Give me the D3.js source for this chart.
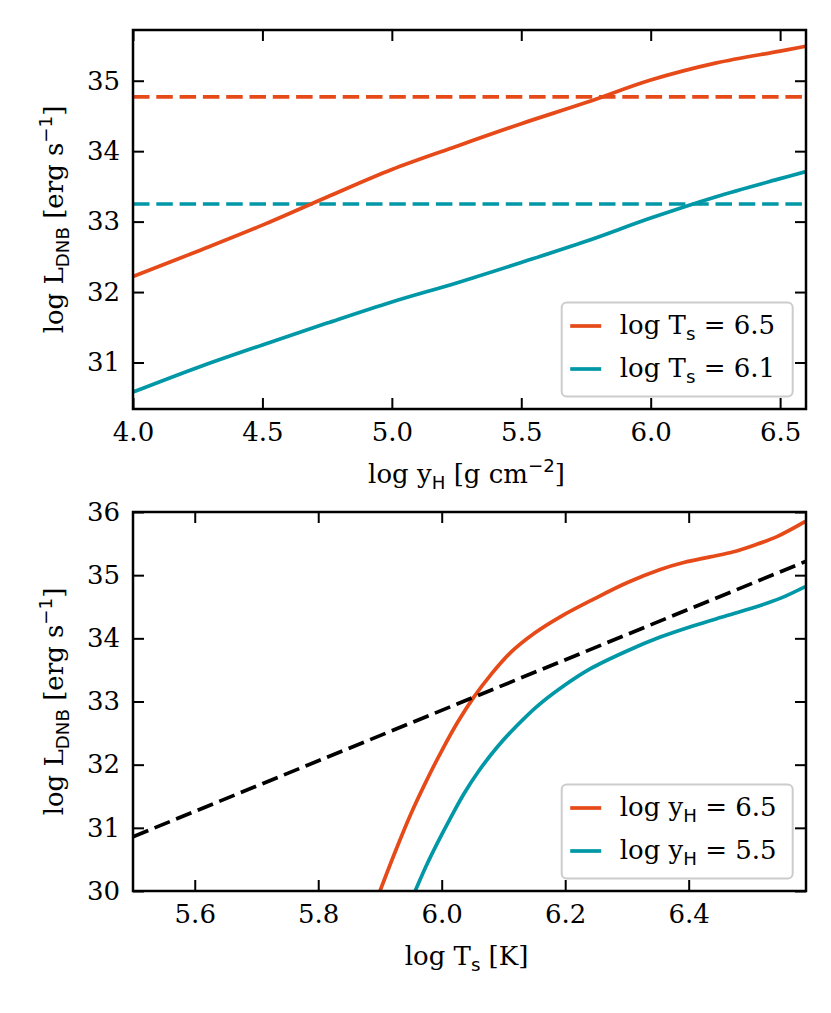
<!DOCTYPE html>
<html>
<head>
<meta charset="utf-8">
<script src="https://cdn.jsdelivr.net/npm/d3@7"></script>
<style>
  html, body { margin: 0; padding: 0; background: #fff; }
  svg { display: block; }
</style>
</head>
<body>
<svg id="chart" width="831" height="1013"></svg>
<script>
// ---------- DATA ----------
// Top panel: log L_DNB vs log y_H
const topX = [4.0, 4.25, 4.5, 4.75, 5.0, 5.25, 5.5, 5.75, 6.0, 6.25, 6.5, 6.6];
const topTs65 = [32.22, 32.58, 32.95, 33.35, 33.74, 34.07, 34.39, 34.69, 35.01, 35.25, 35.42, 35.49];
const topTs61 = [30.58, 30.93, 31.25, 31.56, 31.86, 32.13, 32.42, 32.72, 33.05, 33.35, 33.61, 33.71];
const topDashed = [34.77, 33.25];          // horizontal reference levels (Ts=6.5, Ts=6.1)
const topXTicks = [4.0, 4.5, 5.0, 5.5, 6.0, 6.5];
const topYTicks = [31, 32, 33, 34, 35];
const topXDomain = [4.0, 6.6];
const topYDomain = [30.34, 35.72];
const topLegend = ["6.5", "6.1"];

// Bottom panel: log L_DNB vs log T_s
const botYH65T = [5.900, 5.925, 5.950, 5.975, 6.000, 6.025, 6.052, 6.080, 6.111, 6.150, 6.192, 6.246, 6.300, 6.354, 6.392, 6.435, 6.473, 6.505, 6.543, 6.589];
const botYH65L = [30.00, 30.63, 31.22, 31.74, 32.22, 32.66, 33.07, 33.43, 33.77, 34.08, 34.34, 34.62, 34.88, 35.09, 35.20, 35.29, 35.37, 35.47, 35.61, 35.85];
const botYH55T = [5.957, 5.975, 5.9925, 6.015, 6.036, 6.060, 6.090, 6.120, 6.154, 6.195, 6.241, 6.300, 6.354, 6.408, 6.462, 6.516, 6.550, 6.589];
const botYH55L = [30.00, 30.40, 30.75, 31.17, 31.54, 31.90, 32.28, 32.60, 32.92, 33.23, 33.52, 33.80, 34.02, 34.20, 34.36, 34.52, 34.64, 34.82];
const botDashT = [5.5, 6.59];
const botDashL = [30.86, 35.22];
const botXTicks = [5.6, 5.8, 6.0, 6.2, 6.4];
const botYTicks = [30, 31, 32, 33, 34, 35, 36];
const botXDomain = [5.5, 6.59];
const botYDomain = [30, 36];
const botLegend = ["6.5", "5.5"];

// ---------- STYLE ----------
const ORANGE = "#E64A19", CYAN = "#0097A7";
const SERIF = "DejaVu Serif", SANS = "DejaVu Sans";
const FS = 26;
const LW = 3.7;
const svg = d3.select("#chart");
svg.append("rect").attr("width", 831).attr("height", 1013).attr("fill", "#fff");

function rich(textSel, parts, fs) {
  let off = 0;
  parts.forEach(p => {
    const t = textSel.append("tspan").text(p.t);
    let target = 0;
    if (p.sub) { target = fs * 0.24; t.attr("font-size", fs * 0.7).attr("font-family", SANS); }
    else if (p.sup) { target = -fs * 0.42; t.attr("font-size", fs * 0.7).attr("font-family", SANS); }
    if (target - off !== 0) t.attr("dy", target - off);
    off = target;
  });
}

function panel(cfg) {
  const x = d3.scaleLinear().domain(cfg.xd).range([cfg.left, cfg.right]);
  const y = d3.scaleLinear().domain(cfg.yd).range([cfg.bottom, cfg.top]);
  const g = svg.append("g");
  const clipId = "clip" + cfg.id;
  svg.append("defs").append("clipPath").attr("id", clipId)
    .append("rect").attr("x", cfg.left).attr("y", cfg.top)
    .attr("width", cfg.right - cfg.left).attr("height", cfg.bottom - cfg.top);

  const plot = g.append("g").attr("clip-path", `url(#${clipId})`);
  const line = d3.line().x(d => x(d[0])).y(d => y(d[1]));
  cfg.draw(plot, x, y, line);

  const tick = 11;
  const styleAxis = (ax) => {
    ax.select(".domain").remove();
    ax.selectAll(".tick line").attr("stroke", "#000").attr("stroke-width", 2);
    ax.selectAll("text").attr("font-family", SERIF).attr("font-size", FS).attr("fill", "#000");
  };
  g.append("g").attr("transform", `translate(0,${cfg.bottom})`)
    .call(d3.axisBottom(x).tickValues(cfg.xt).tickFormat(cfg.xfmt).tickSizeInner(-tick).tickSizeOuter(0).tickPadding(14))
    .call(styleAxis);
  g.append("g").attr("transform", `translate(0,${cfg.top})`)
    .call(d3.axisTop(x).tickValues(cfg.xt).tickFormat("").tickSizeInner(-tick).tickSizeOuter(0))
    .call(styleAxis);
  g.append("g").attr("transform", `translate(${cfg.left},0)`)
    .call(d3.axisLeft(y).tickValues(cfg.yt).tickFormat(d3.format("d")).tickSizeInner(-tick).tickSizeOuter(0).tickPadding(13))
    .call(styleAxis);
  g.append("g").attr("transform", `translate(${cfg.right},0)`)
    .call(d3.axisRight(y).tickValues(cfg.yt).tickFormat("").tickSizeInner(-tick).tickSizeOuter(0))
    .call(styleAxis);

  g.append("rect").attr("x", cfg.left).attr("y", cfg.top)
    .attr("width", cfg.right - cfg.left).attr("height", cfg.bottom - cfg.top)
    .attr("fill", "none").attr("stroke", "#000").attr("stroke-width", 2.5);

  // axis labels
  const xl = g.append("text").attr("x", (cfg.left + cfg.right) / 2 - 3).attr("y", cfg.bottom + 74)
    .attr("text-anchor", "middle").attr("font-family", SERIF).attr("font-size", FS);
  rich(xl, cfg.xlabel, FS);
  const cy = (cfg.top + cfg.bottom) / 2;
  const yl = g.append("text").attr("transform", `translate(63,${cy}) rotate(-90)`)
    .attr("text-anchor", "middle").attr("font-family", SERIF).attr("font-size", FS);
  rich(yl, [{t: "log L"}, {t: "DNB", sub: true}, {t: " [erg s"}, {t: "\u22121", sup: true}, {t: "]"}], FS);

  // legend
  const lw = 231, lh = 94;
  const lx = cfg.right - 13.3 - lw, ly = cfg.bottom - 12.5 - lh;
  const lg = g.append("g");
  lg.append("rect").attr("x", lx).attr("y", ly).attr("width", lw).attr("height", lh)
    .attr("rx", 5).attr("fill", "#fff").attr("fill-opacity", 0.8)
    .attr("stroke", "#cccccc").attr("stroke-width", 2);
  cfg.legend.forEach((item, i) => {
    const hy = ly + 23.5 + i * 43;
    lg.append("line").attr("x1", lx + 8.5).attr("x2", lx + 39.5).attr("y1", hy).attr("y2", hy)
      .attr("stroke", item.color).attr("stroke-width", LW);
    const t = lg.append("text").attr("x", lx + 58).attr("y", hy + 8)
      .attr("font-family", SERIF).attr("font-size", FS);
    rich(t, item.parts, FS);
  });
}

// Top panel
panel({
  id: "top", left: 133, right: 806, top: 30, bottom: 409,
  xd: topXDomain, yd: topYDomain, xt: topXTicks, yt: topYTicks,
  xfmt: d3.format(".1f"),
  xlabel: [{t: "log y"}, {t: "H", sub: true}, {t: " [g cm"}, {t: "\u22122", sup: true}, {t: "]"}],
  legend: [
    {color: ORANGE, parts: [{t: "log T"}, {t: "s", sub: true}, {t: " = " + topLegend[0]}]},
    {color: CYAN, parts: [{t: "log T"}, {t: "s", sub: true}, {t: " = " + topLegend[1]}]}
  ],
  draw: (plot, x, y, line) => {
    const colors = [ORANGE, CYAN];
    topDashed.forEach((v, i) => {
      plot.append("path").datum([[topXDomain[0], v], [topXDomain[1], v]])
        .attr("d", line).attr("fill", "none").attr("stroke", colors[i])
        .attr("stroke-width", LW).attr("stroke-dasharray", "16.5,6.8");
    });
    const curve = d3.line().x(d => x(d[0])).y(d => y(d[1])).curve(d3.curveCatmullRom.alpha(0.5));
    [[topTs65, ORANGE], [topTs61, CYAN]].forEach(([vals, c]) => {
      plot.append("path").datum(topX.map((xv, i) => [xv, vals[i]]))
        .attr("d", curve).attr("fill", "none").attr("stroke", c).attr("stroke-width", LW);
    });
  }
});

// Bottom panel
panel({
  id: "bot", left: 133, right: 806, top: 512, bottom: 891,
  xd: botXDomain, yd: botYDomain, xt: botXTicks, yt: botYTicks,
  xfmt: d3.format(".1f"),
  xlabel: [{t: "log T"}, {t: "s", sub: true}, {t: " [K]"}],
  legend: [
    {color: ORANGE, parts: [{t: "log y"}, {t: "H", sub: true}, {t: " = " + botLegend[0]}]},
    {color: CYAN, parts: [{t: "log y"}, {t: "H", sub: true}, {t: " = " + botLegend[1]}]}
  ],
  draw: (plot, x, y, line) => {
    const curve = d3.line().x(d => x(d[0])).y(d => y(d[1])).curve(d3.curveCatmullRom.alpha(0.5));
    [[botYH65T, botYH65L, ORANGE], [botYH55T, botYH55L, CYAN]].forEach(([ts, ls, c]) => {
      plot.append("path").datum(ts.map((t, i) => [t, ls[i]]))
        .attr("d", curve).attr("fill", "none").attr("stroke", c).attr("stroke-width", LW);
    });
    plot.append("path").datum(botDashT.map((t, i) => [t, botDashL[i]]))
      .attr("d", line).attr("fill", "none").attr("stroke", "#000")
      .attr("stroke-width", LW).attr("stroke-dasharray", "16.5,6.8");
  }
});
</script>
</body>
</html>
